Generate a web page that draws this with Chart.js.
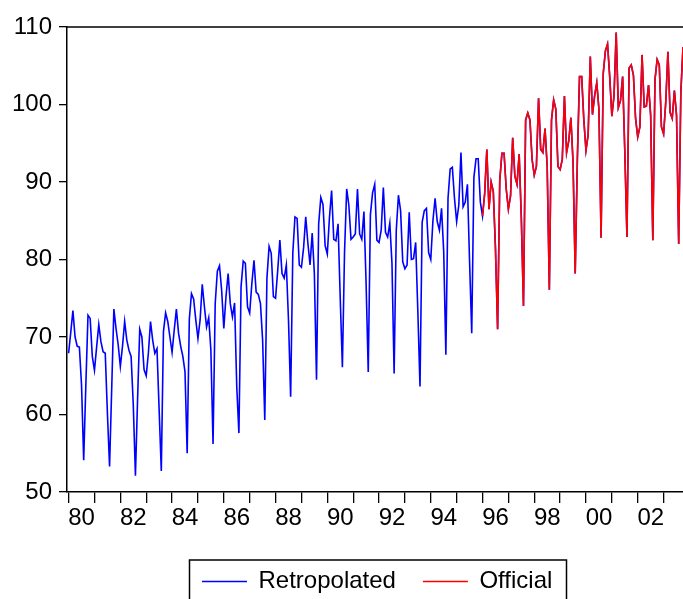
<!DOCTYPE html>
<html><head><meta charset="utf-8">
<script src="https://cdn.jsdelivr.net/npm/chart.js@4.4.0/dist/chart.umd.min.js"></script>
<style>html,body{margin:0;padding:0;background:#fff;overflow:hidden}canvas{display:block}</style>
</head><body>
<canvas id="c" width="683" height="599"></canvas>
<script>
// Monthly observations, January 1980 onward
const startYear = 1980;
const seriesNames = ['Retropolated', 'Official'];
const seriesColors = ['#0000ff', '#ff0000'];

const retropolated = [
  67.9, 70.6, 73.4, 70.0, 68.8, 68.7, 63.8, 54.1, 63.8, 72.8, 72.4, 67.5,
  65.7, 68.7, 71.6, 69.4, 68.1, 67.9, 60.2, 53.3, 63.4, 73.6, 71.1, 69.0,
  66.2, 68.8, 72.0, 69.6, 68.3, 67.5, 61.3, 52.1, 62.0, 71.0, 70.0, 65.8,
  65.0, 67.9, 72.0, 69.6, 67.9, 68.5, 60.6, 52.7, 70.7, 73.1, 72.0, 70.0,
  68.0, 70.9, 73.6, 70.5, 68.8, 67.5, 65.5, 55.0, 72.3, 75.6, 74.9, 72.2,
  69.8, 72.2, 76.8, 73.9, 71.3, 72.5, 68.3, 56.2, 74.3, 78.5, 79.2, 76.0,
  71.1, 75.2, 78.2, 74.3, 72.6, 74.4, 63.6, 57.6, 76.5, 79.8, 79.5, 73.9,
  73.1, 76.9, 79.9, 75.8, 75.5, 74.3, 69.6, 59.3, 77.6, 81.7, 80.8, 75.2,
  75.0, 78.6, 82.5, 78.2, 77.6, 79.3, 72.2, 62.3, 80.8, 85.5, 85.3, 79.3,
  79.0, 81.5, 85.5, 82.1, 79.3, 83.4, 78.2, 64.5, 84.6, 88.0, 87.1, 81.8,
  80.7, 85.4, 88.9, 82.6, 82.4, 84.6, 75.0, 66.1, 81.0, 89.1, 87.0, 82.6,
  82.9, 83.3, 89.1, 83.3, 82.6, 86.2, 76.9, 65.5, 85.8, 88.6, 89.7, 82.5,
  82.2, 83.8, 89.3, 83.5, 82.9, 84.7, 79.5, 65.3, 83.8, 88.3, 86.3, 79.7,
  78.8, 79.3, 86.1, 80.0, 80.1, 82.2, 73.3, 63.6, 84.8, 86.3, 86.6, 80.9,
  80.0, 85.0, 87.9, 84.9, 83.8, 86.6, 81.0, 67.7, 87.9, 91.7, 91.9, 87.9,
  84.9, 87.0, 93.8, 86.8, 87.4, 89.7, 79.7, 70.5, 90.6, 93.0, 93.0, 87.4,
  85.6, 88.5, 94.2, 86.5, 90.0, 88.8, 81.5, 71.0, 90.2, 93.7, 93.7, 89.1,
  86.5, 88.2, 95.7, 90.8, 89.7, 93.6, 85.4, 74.0, 98.0, 98.9, 98.0, 92.9,
  90.9, 92.0, 100.8, 94.2, 93.8, 96.9, 92.0, 76.1, 98.0, 100.6, 99.4, 92.0,
  91.6, 92.9, 101.1, 93.8, 95.3, 98.3, 92.5, 78.2, 93.0, 103.6, 103.6, 98.0,
  94.1, 96.1, 106.2, 98.7, 101.1, 102.8, 99.4, 82.8, 104.0, 106.9, 107.8, 103.6,
  98.5, 101.1, 109.3, 99.6, 100.5, 103.6, 94.0, 82.9, 104.7, 105.1, 103.8, 98.2,
  95.8, 97.1, 106.4, 99.7, 99.8, 102.5, 98.6, 82.5, 103.2, 105.8, 105.1, 97.1,
  96.2, 100.3, 106.8, 99.0, 98.2, 101.8, 98.6, 82.0, 101.6, 107.4
];

// Official series starts January 1996 (month index 192)
const officialStartIndex = 192;
const official = [
  85.6, 88.5, 94.2, 86.5, 90.0, 88.8, 81.5, 71.0, 90.2, 93.7, 93.7, 89.1,
  86.5, 88.2, 95.7, 90.8, 89.7, 93.6, 85.4, 74.0, 98.0, 98.9, 98.0, 92.9,
  90.9, 92.0, 100.8, 94.2, 93.8, 96.9, 92.0, 76.1, 98.0, 100.6, 99.4, 92.0,
  91.6, 92.9, 101.1, 93.8, 95.3, 98.3, 92.5, 78.2, 93.0, 103.6, 103.6, 98.0,
  94.1, 96.1, 106.2, 98.7, 101.1, 102.8, 99.4, 82.8, 104.0, 106.9, 107.8, 103.6,
  98.5, 101.1, 109.3, 99.6, 100.5, 103.6, 94.0, 82.9, 104.7, 105.1, 103.8, 98.2,
  95.8, 97.1, 106.4, 99.7, 99.8, 102.5, 98.6, 82.5, 103.2, 105.8, 105.1, 97.1,
  96.2, 100.3, 106.8, 99.0, 98.2, 101.8, 98.6, 82.0, 101.6, 107.4
];

const tickYears = [1980,1981,1982,1983,1984,1985,1986,1987,1988,1989,1990,1991,1992,1993,1994,1995,1996,1997,1998,1999,2000,2001,2002,2003];
const xTickLabels = ['80','82','84','86','88','90','92','94','96','98','00','02'];
const yMin = 50, yMax = 110, yStep = 10;

const FONT = { family: "'Liberation Sans', Arial, sans-serif", size: 24 };

const retroPts = retropolated.map((v, i) => ({ x: i, y: v }));
const officialPts = official.map((v, j) => ({ x: officialStartIndex + j, y: v }));

const framePlugin = {
  id: 'frame',
  afterDraw(chart) {
    const { ctx, chartArea: a } = chart;
    ctx.save();
    ctx.strokeStyle = '#000';
    ctx.lineWidth = 1.5;
    ctx.beginPath();
    ctx.moveTo(a.left, a.top);
    ctx.lineTo(a.right, a.top);
    ctx.stroke();
    ctx.restore();
  }
};

const legendPlugin = {
  id: 'boxLegend',
  afterDraw(chart) {
    const ctx = chart.ctx;
    ctx.save();
    ctx.font = FONT.size + "px " + FONT.family;
    ctx.textBaseline = 'middle';
    ctx.fillStyle = '#000';
    const boxLeft = 189.5, boxTop = 560, boxRight = 566.5, boxBottom = 604;
    ctx.strokeStyle = '#000';
    ctx.lineWidth = 1.5;
    ctx.strokeRect(boxLeft, boxTop, boxRight - boxLeft, boxBottom - boxTop);
    let x = boxLeft + 12.5;
    const y = 581.5;
    seriesNames.forEach((name, k) => {
      ctx.strokeStyle = seriesColors[k];
      ctx.lineWidth = 1.4;
      ctx.beginPath();
      ctx.moveTo(x, y);
      ctx.lineTo(x + 45, y);
      ctx.stroke();
      x += 45 + 11.5;
      ctx.fillText(name, x, y);
      x += ctx.measureText(name).width + 27;
    });
    ctx.restore();
  }
};

new Chart(document.getElementById('c').getContext('2d'), {
  type: 'line',
  data: {
    datasets: [
      { label: seriesNames[0], data: retroPts, borderColor: seriesColors[0], backgroundColor: seriesColors[0],
        borderWidth: 1.6, pointRadius: 0, tension: 0, fill: false, order: 1 },
      { label: seriesNames[1], data: officialPts, borderColor: seriesColors[1], backgroundColor: seriesColors[1],
        borderWidth: 1.6, pointRadius: 0, tension: 0, fill: false, order: 0 }
    ]
  },
  options: {
    responsive: false,
    animation: false,
    devicePixelRatio: 1,
    layout: { padding: { top: 27, left: 0, right: 0, bottom: 0 } },
    plugins: { legend: { display: false }, tooltip: { enabled: false } },
    scales: {
      x: {
        type: 'linear',
        min: -0.74,
        max: 285,
        afterFit(s) { s.height = 107; },
        afterBuildTicks(s) { s.ticks = tickYears.map(yr => ({ value: (yr - startYear) * 12 })); },
        grid: { drawOnChartArea: false, drawTicks: true, tickLength: 11, color: '#000', lineWidth: 1.3 },
        border: { display: true, color: '#000', width: 1.5 },
        ticks: {
          autoSkip: false, maxRotation: 0, minRotation: 0, labelOffset: 13, padding: 1,
          color: '#000', font: FONT,
          callback(value) {
            const k = Math.round(value / 12);
            return k % 2 === 0 ? (xTickLabels[k / 2] || '') : '';
          }
        }
      },
      y: {
        min: yMin, max: yMax,
        afterFit(s) { s.width = 67; },
        grid: { drawOnChartArea: false, drawTicks: true, tickLength: 8, color: '#000', lineWidth: 1.3 },
        border: { display: true, color: '#000', width: 1.5 },
        ticks: { stepSize: yStep, padding: 7, color: '#000', font: FONT }
      }
    }
  },
  plugins: [framePlugin, legendPlugin]
});
</script>
</body></html>
